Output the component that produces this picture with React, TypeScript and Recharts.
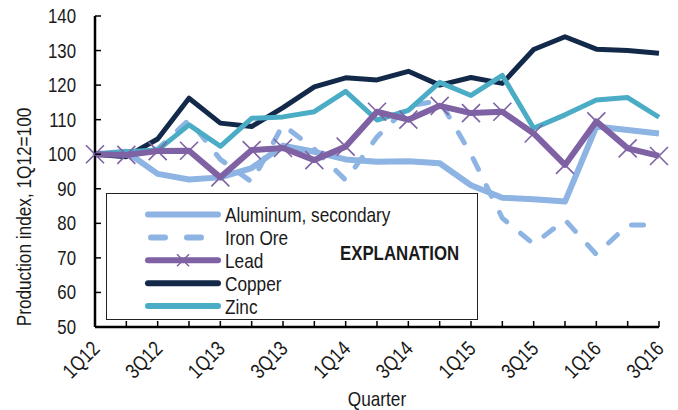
import React from "react";
import { LineChart, Line, XAxis, YAxis, Legend } from "recharts";

const quarters = [
  "1Q12", "2Q12", "3Q12", "4Q12", "1Q13", "2Q13", "3Q13", "4Q13", "1Q14", "2Q14",
  "3Q14", "4Q14", "1Q15", "2Q15", "3Q15", "4Q15", "1Q16", "2Q16", "3Q16"
];

const aluminum = [100, 100.7, 94.3, 92.7, 93.3, 96, 102.5, 100.7, 98.5, 97.8, 98, 97.4, 91, 87.4, 87, 86.3, 108, 107, 106];
const ironOre = [100, 100.5, 101.5, 110, 98.5, 92, 108.5, 101.5, 92.5, 105, 114, 115.5, 100, 81.5, 74, 81, 71, 79.5, 79.5];
const lead = [100, 99.8, 100.9, 101, 93.3, 101.2, 101.8, 98.3, 102.2, 112.3, 110, 114, 111.9, 112.3, 106, 96.9, 109.5, 101.7, 99.5];
const copper = [100, 99.3, 104.4, 116.2, 109, 108, 113.5, 119.5, 122.1, 121.5, 124, 120, 122.2, 120.5, 130.3, 134, 130.4, 130, 129.2];
const zinc = [100, 100.7, 101.2, 108.5, 102.3, 110.4, 110.8, 112.3, 118.2, 109.9, 112.7, 120.8, 117, 122.8, 107.5, 111.4, 115.7, 116.4, 110.7];

const yTicks = [50, 60, 70, 80, 90, 100, 110, 120, 130, 140];
const legendOrder = ["Aluminum, secondary", "Iron Ore", "Lead", "Copper", "Zinc"];

const data = quarters.map((q, i) => ({
  quarter: q,
  aluminum: aluminum[i],
  ironOre: ironOre[i],
  lead: lead[i],
  copper: copper[i],
  zinc: zinc[i]
}));

// no narrow font installed, so squeeze Liberation Sans (Arial metrics) like Arial Narrow
const FONT = "'Liberation Sans', Arial, sans-serif";
const SQUEEZE = 0.82;
const LIGHT = "#8db4e2";
const PURPLE = "#7f62a4";
const NAVY = "#13294a";
const TEAL = "#4bacc6";
const INK = "#1a1a1a";

type NTextProps = {
  x: number;
  y: number;
  size: number;
  anchor?: "start" | "middle" | "end";
  rotate?: number;
  bold?: boolean;
  children: React.ReactNode;
};

const NText = ({ x, y, size, anchor = "start", rotate = 0, bold, children }: NTextProps) => (
  <text
    x={0}
    y={0}
    transform={`translate(${x} ${y}) rotate(${rotate}) scale(${SQUEEZE} 1)`}
    textAnchor={anchor}
    fontFamily={FONT}
    fontSize={size}
    fontWeight={bold ? "bold" : "normal"}
    fill={INK}
  >
    {children}
  </text>
);

const BottomTick = (props: any) => {
  const { x, y, payload, index } = props;
  return (
    <g>
      <line x1={x} y1={y} x2={x} y2={y - 6} stroke="#000" strokeWidth={1.5} />
      {index % 2 === 0 && (
        <NText x={x + 6} y={y + 23} size={21} anchor="end" rotate={-45}>
          {payload.value}
        </NText>
      )}
    </g>
  );
};

const TopTick = (props: any) => {
  const { x, y } = props;
  return <line x1={x} y1={y} x2={x} y2={y + 6} stroke="#000" strokeWidth={1.5} />;
};

const LeftTick = (props: any) => {
  const { x, y, payload } = props;
  return (
    <g>
      <line x1={x} y1={y} x2={x + 6} y2={y} stroke="#000" strokeWidth={1.5} />
      <NText x={x - 19} y={y + 7} size={20.5} anchor="end">
        {payload.value}
      </NText>
    </g>
  );
};

const RightTick = (props: any) => {
  const { x, y } = props;
  return <line x1={x} y1={y} x2={x - 6} y2={y} stroke="#000" strokeWidth={1.5} />;
};

const XMark = (props: any) => {
  const { cx, cy } = props;
  if (cx == null || cy == null) return <g />;
  const s = 9;
  return (
    <path
      d={`M${cx - s},${cy - s}L${cx + s},${cy + s}M${cx - s},${cy + s}L${cx + s},${cy - s}`}
      stroke={PURPLE}
      strokeWidth={1.6}
      fill="none"
    />
  );
};

const renderLegend = (props: any) => {
  const items = [...(props.payload || [])].sort(
    (a: any, b: any) => legendOrder.indexOf(a.value) - legendOrder.indexOf(b.value)
  );
  return (
    <div style={{ width: 372, height: 127, border: "1.5px solid #222", boxSizing: "border-box", background: "#fff" }}>
      <svg width={369} height={124} style={{ display: "block" }}>
        {items.map((it: any, i: number) => {
          const y = 20.5 + i * 22.9;
          const dashed = it.value === "Iron Ore";
          return (
            <g key={it.value}>
              <line
                x1={dashed ? 44 : 41}
                y1={y}
                x2={dashed ? 108 : 111}
                y2={y}
                stroke={it.color}
                strokeWidth={6}
                strokeLinecap="round"
                strokeDasharray={dashed ? "14 22" : undefined}
              />
              {it.value === "Lead" && (
                <path d={`M70,${y - 6}L82,${y + 6}M70,${y + 6}L82,${y - 6}`} stroke={PURPLE} strokeWidth={1.5} />
              )}
              <NText x={118} y={y + 7.5} size={21}>
                {it.value}
              </NText>
            </g>
          );
        })}
        <NText x={233} y={66} size={20.5} bold>
          EXPLANATION
        </NText>
      </svg>
    </div>
  );
};

const App = () => {
  return (
    <div style={{ position: "absolute", left: 0, top: 0, width: 678, height: 410, background: "#fff" }}>
      <LineChart width={678} height={410} data={data} margin={{ top: 16, right: 19, bottom: 0, left: 0 }}>
        <XAxis
          dataKey="quarter"
          interval={0}
          height={83}
          tickSize={0}
          tickMargin={0}
          tickLine={false}
          tick={BottomTick}
          axisLine={{ stroke: "#000", strokeWidth: 2.5 }}
          label={() => (
            <NText x={377} y={406} size={21} anchor="middle">
              Quarter
            </NText>
          )}
        />
        <XAxis
          xAxisId="top"
          orientation="top"
          dataKey="quarter"
          interval={0}
          height={0}
          tickSize={0}
          tickMargin={0}
          tickLine={false}
          tick={TopTick}
          axisLine={{ stroke: "#000", strokeWidth: 2.5 }}
        />
        <YAxis
          domain={[50, 140]}
          ticks={yTicks}
          width={95}
          tickSize={0}
          tickMargin={0}
          tickLine={false}
          tick={LeftTick}
          axisLine={{ stroke: "#000", strokeWidth: 2.5 }}
          label={() => (
            <text
              x={0}
              y={0}
              transform={`translate(31 217) rotate(-90) scale(${SQUEEZE} 1)`}
              textAnchor="middle"
              fontFamily={FONT}
              fontSize={21}
              fill={INK}
            >
              Production index, 1Q12=100
            </text>
          )}
        />
        <YAxis
          yAxisId="right"
          orientation="right"
          domain={[50, 140]}
          allowDataOverflow
          ticks={yTicks}
          width={0}
          tickSize={0}
          tickMargin={0}
          tickLine={false}
          tick={RightTick}
          axisLine={{ stroke: "#000", strokeWidth: 2.5 }}
        />
        <Legend
          layout="vertical"
          align="center"
          verticalAlign="middle"
          content={renderLegend}
          wrapperStyle={{ left: 106, top: 193, width: 372, height: 127 }}
        />
        <Line
          name="Aluminum, secondary"
          dataKey="aluminum"
          stroke={LIGHT}
          strokeWidth={6}
          strokeLinejoin="round"
          dot={false}
          isAnimationActive={false}
        />
        <Line
          name="Iron Ore"
          dataKey="ironOre"
          stroke={LIGHT}
          strokeWidth={5}
          strokeDasharray="12 18"
          strokeLinecap="round"
          strokeLinejoin="round"
          dot={false}
          isAnimationActive={false}
        />
        <Line
          name="Copper"
          dataKey="copper"
          stroke={NAVY}
          strokeWidth={5}
          strokeLinejoin="round"
          dot={false}
          isAnimationActive={false}
        />
        <Line
          name="Zinc"
          dataKey="zinc"
          stroke={TEAL}
          strokeWidth={5}
          strokeLinejoin="round"
          dot={false}
          isAnimationActive={false}
        />
        <Line
          name="Lead"
          dataKey="lead"
          stroke={PURPLE}
          strokeWidth={6}
          strokeLinejoin="round"
          dot={XMark}
          isAnimationActive={false}
        />
      </LineChart>
    </div>
  );
};

export default App;
